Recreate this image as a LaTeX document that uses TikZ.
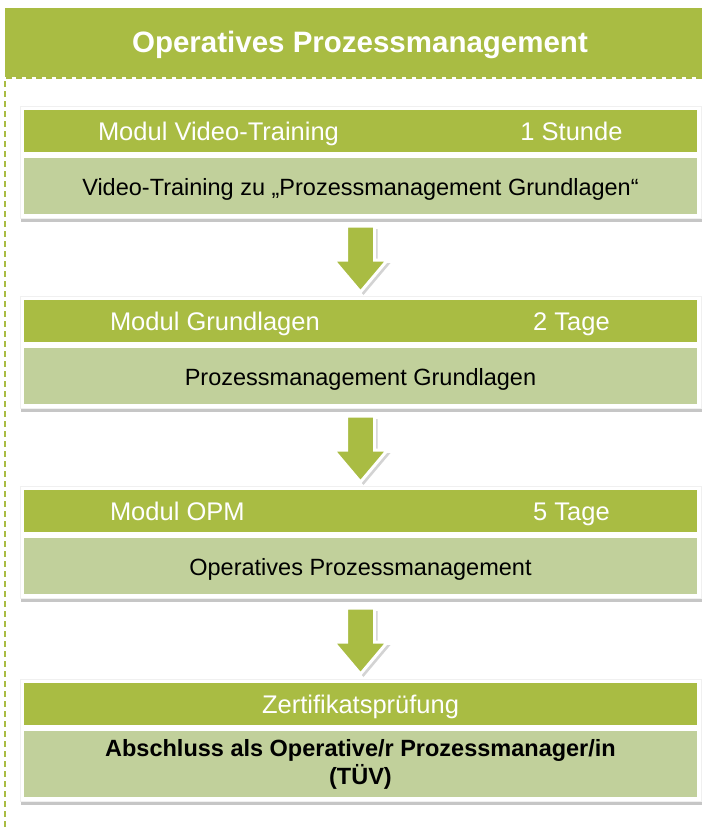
\documentclass[tikz,border=0pt]{standalone}
\usepackage{fontspec}
\setmainfont{Liberation Sans}
\usetikzlibrary{positioning,shadows,fit,backgrounds}

\definecolor{opmgruen}{HTML}{A9BC43}
\definecolor{opmhell}{HTML}{C1D09B}

\tikzset{
    titelband/.style={fill=opmgruen, inner sep=0pt, minimum width=697pt, minimum height=69pt},
    titeltext/.style={text=white, font=\fontsize{29.5}{34}\selectfont\bfseries, inner sep=0pt, anchor=base},
    kopf/.style={fill=opmgruen, inner sep=0pt, minimum width=673pt, minimum height=42pt},
    inhalt/.style={fill=opmhell, inner sep=0pt, minimum width=673pt, minimum height=56pt},
    kopftext/.style={text=white, font=\fontsize{25.5}{30}\selectfont, inner sep=0pt, anchor=base},
    inhalttext/.style={text=black, font=\fontsize{23.5}{28}\selectfont, inner sep=0pt, anchor=base},
    rahmen/.style={fill=white, draw=black!6, inner sep=4pt,
        drop shadow={shadow xshift=1pt, shadow yshift=-3pt, opacity=.45}},
    pfeil/.style={fill=opmgruen, draw=white, line width=3pt, line join=miter,
        drop shadow={shadow xshift=3pt, shadow yshift=-3pt, opacity=.35}},
    rand/.style={draw=opmgruen, line width=1.6pt, dash pattern=on 6pt off 4pt},
}

\begin{document}
\begin{tikzpicture}[x=1pt, y=-1pt]
    \useasboundingbox (0,0) rectangle (702,828);

    % title band
    \node [titelband] (titel) at (353.5,42.5) {};
    \node [titeltext] (titelname) at (360,52) {Operatives Prozessmanagement};

    % dashed border of the content area
    \coordinate (eck) at (5,78);
    \coordinate (rechts) at (702,78);
    \coordinate (unten) at (5,828);
    \draw [rand] (rechts) -- (eck) -- (unten);

    % modules
    \node [kopf] (kopf1) at (360.5,131) {};
    \node [inhalt, below=6pt of kopf1] (inhalt1) {};
    \node [kopf] (kopf2) at (360.5,321) {};
    \node [inhalt, below=6pt of kopf2] (inhalt2) {};
    \node [kopf] (kopf3) at (360.5,511) {};
    \node [inhalt, below=6pt of kopf3] (inhalt3) {};
    \node [kopf] (kopf4) at (360.5,704) {};
    \node [inhalt, below=6pt of kopf4, minimum height=66pt] (inhalt4) {};

    \begin{scope}[on background layer]
        \node [rahmen, fit=(kopf1)(inhalt1)] (rahmen1) {};
        \node [rahmen, fit=(kopf2)(inhalt2)] (rahmen2) {};
        \node [rahmen, fit=(kopf3)(inhalt3)] (rahmen3) {};
        \node [rahmen, fit=(kopf4)(inhalt4)] (rahmen4) {};
    \end{scope}

    \node [kopftext, anchor=base west] (modul1) at ([xshift=74pt, yshift=-9pt]kopf1.west) {Modul Video-Training};
    \node [kopftext] (dauer1) at ([xshift=211pt, yshift=-9pt]kopf1.center) {1 Stunde};
    \node [inhalttext] (text1) at ([yshift=-9pt]inhalt1.center) {Video-Training zu „Prozessmanagement Grundlagen“};

    \node [kopftext, anchor=base west] (modul2) at ([xshift=86pt, yshift=-9pt]kopf2.west) {Modul Grundlagen};
    \node [kopftext] (dauer2) at ([xshift=211pt, yshift=-9pt]kopf2.center) {2 Tage};
    \node [inhalttext] (text2) at ([yshift=-9pt]inhalt2.center) {Prozessmanagement Grundlagen};

    \node [kopftext, anchor=base west] (modul3) at ([xshift=86pt, yshift=-9pt]kopf3.west) {Modul OPM};
    \node [kopftext] (dauer3) at ([xshift=211pt, yshift=-9pt]kopf3.center) {5 Tage};
    \node [inhalttext] (text3) at ([yshift=-9pt]inhalt3.center) {Operatives Prozessmanagement};

    \node [kopftext] (pruefung) at ([yshift=-9pt]kopf4.center) {Zertifikatsprüfung};
    \node [inhalttext, anchor=center, align=center, font=\fontsize{23.5}{28}\selectfont\bfseries] (abschluss) at (inhalt4.center)
        {Abschluss als Operative/r Prozessmanager/in\\(TÜV)};

    % arrows between the modules
    \coordinate (pfeil1) at (rahmen1.south |- 0,226);
    \coordinate (pfeil2) at (rahmen2.south |- 0,416);
    \coordinate (pfeil3) at (rahmen3.south |- 0,608);
    \foreach \p in {pfeil1,pfeil2,pfeil3}
        \draw [pfeil] (\p) ++(-14,0) -- ++(28,0) -- ++(0,34) -- ++(13,0)
            -- ++(-27,32) -- ++(-27,-32) -- ++(13,0) -- cycle;
\end{tikzpicture}
\end{document}
